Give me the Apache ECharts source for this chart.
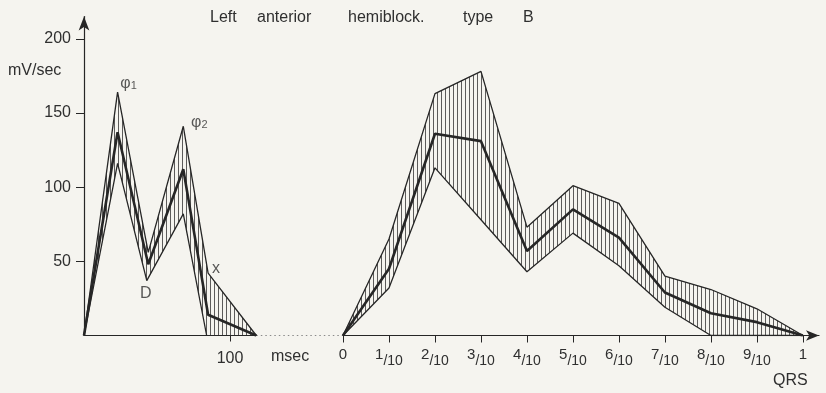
<!DOCTYPE html>
<html><head><meta charset="utf-8">
<script src="https://cdn.jsdelivr.net/npm/echarts@6/dist/echarts.min.js"></script>
<style>html,body{margin:0;padding:0;background:#f5f4ef}#c{width:826px;height:393px}</style>
</head><body><div id="c"></div>
<script>
// ---------- data ----------
const titleWords = ['Left', 'anterior', 'hemiblock.', 'type', 'B'];
const yTicks = [50, 100, 150, 200];
const msecTicks = [100];
// left panel (msec)
const leftUpperX = [0, 23, 44, 68, 85, 118];
const leftUpperY = [0, 164, 56, 141, 42, 0];
const leftMeanX = [0, 23, 44, 68, 85, 118];
const leftMeanY = [0, 137, 48, 112, 14, 0];
const leftLowerX = [0, 23, 43, 68, 84];
const leftLowerY = [0, 116, 37, 82, 0];
// right panel (fraction of QRS)
const qrsX = [0, 0.1, 0.2, 0.3, 0.4, 0.5, 0.6, 0.7, 0.8, 0.9, 1];
const qrsLabels = ['0', '1/10', '2/10', '3/10', '4/10', '5/10', '6/10', '7/10', '8/10', '9/10', '1'];
const rightUpper = [0, 65, 163, 178, 73, 101, 89, 40, 31, 18, 0];
const rightMean = [0, 45, 136, 131, 57, 85, 66, 29, 15, 9, 0];
const rightLower = [0, 32, 113, 78, 43, 69, 47, 19, 0, 0, 0];
// annotations anchored to data points of the left panel
const annotNames = ['φ1', 'φ2', 'D', 'x'];
const annotX = [23, 68, 43, 85];
const annotY = [164, 141, 37, 42];

// ---------- styles ----------
const BG = '#f5f4ef';
const INK = '#262626';
const TXT = '#2f2f2f';
const HATCH = 'rgba(40,40,40,0.75)';
const HATCH_STEP = 4;
const FONT = 'Liberation Sans';
const annotOffsets = [[11, -9], [16, -4], [-1, 13], [8, -5]];
const titleWidths = [47, 91, 115, 60, 20];

const zip = (xs, ys) => xs.map((x, i) => [x, ys[i]]);

const titleRich = {};
titleWords.forEach((w, i) => {
  titleRich['w' + i] = { width: titleWidths[i], align: 'left', fontSize: 16, fontWeight: 'normal', fontFamily: FONT, color: TXT };
});

const yBase = { type: 'value', min: 0, max: 215 };

const chart = echarts.init(document.getElementById('c'), null, { renderer: 'canvas' });

// hatched band between an upper and a lower curve, positioned through the axes
function band(xi, up, lo) {
  const poly = up.concat(lo.slice().reverse());
  return { type: 'custom', coordinateSystem: 'cartesian2d', xAxisIndex: xi, yAxisIndex: xi,
    silent: true, z: 1, clip: false,
    data: [[up[0][0], up[0][1]]],
    renderItem: (params, api) => {
      const px = poly.map(p => api.coord(p));
      const xs = px.map(p => p[0]), ys = px.map(p => p[1]);
      const x0 = Math.floor(Math.min(...xs)), x1 = Math.ceil(Math.max(...xs));
      const y0 = Math.min(...ys) - 2, y1 = Math.max(...ys) + 2;
      const children = [];
      for (let x = x0 + 2; x <= x1; x += HATCH_STEP) {
        children.push({ type: 'line', shape: { x1: x + 0.5, y1: y0, x2: x + 0.5, y2: y1 },
          style: { stroke: HATCH, lineWidth: 1 } });
      }
      return { type: 'group', children: children,
        clipPath: { type: 'polygon', shape: { points: px } } };
    } };
}
function lineS(xi, d, w) {
  return { type: 'line', xAxisIndex: xi, yAxisIndex: xi, data: d, symbol: 'none', silent: true,
    lineStyle: { width: w, color: INK }, z: 3 };
}

const lu = zip(leftUpperX, leftUpperY), lm = zip(leftMeanX, leftMeanY), ll = zip(leftLowerX, leftLowerY);
const ru = zip(qrsX, rightUpper), rm = zip(qrsX, rightMean), rl = zip(qrsX, rightLower);

chart.setOption({
  backgroundColor: BG,
  animation: false,
  textStyle: { fontFamily: FONT, color: TXT },
  title: {
    text: titleWords.map((w, i) => '{w' + i + '|' + w + '}').join(''),
    left: 205, top: 5,
    textStyle: { fontWeight: 'normal', rich: titleRich }
  },
  grid: [
    { left: 84, top: 16.5, width: 172.3, height: 319 },
    { left: 343, top: 16.5, width: 476, height: 319 }
  ],
  xAxis: [
    { gridIndex: 0, type: 'value', min: 0, max: leftUpperX[leftUpperX.length - 1], z: 10,
      splitLine: { show: false },
      axisLine: { lineStyle: { color: INK, width: 1.2 } },
      axisTick: { customValues: msecTicks, length: 6, lineStyle: { color: INK } },
      axisLabel: { customValues: msecTicks, margin: 15, fontSize: 16, color: TXT, fontFamily: FONT } },
    { gridIndex: 1, type: 'value', min: 0, max: 1.035, z: 10,
      splitLine: { show: false },
      axisLine: { symbol: ['none', 'arrow'], symbolSize: [8, 13], lineStyle: { color: INK, width: 1.2 } },
      axisTick: { customValues: qrsX, length: 7, lineStyle: { color: INK } },
      axisLabel: { customValues: qrsX, margin: 12, color: TXT, fontFamily: FONT, fontSize: 15,
        formatter: v => {
          const s = qrsLabels[Math.round(v * 10)];
          if (s.indexOf('/') < 0) return '{s|' + s + '}';
          const p = s.split('/');
          return '{n|' + p[0] + '}{d|/' + p[1] + '}';
        },
        rich: {
          s: { fontSize: 15, fontFamily: FONT, color: TXT, padding: [0, 0, 2, 0] },
          n: { fontSize: 15, fontFamily: FONT, color: TXT, padding: [0, 0, 6, 0] },
          d: { fontSize: 14, fontFamily: FONT, color: TXT, padding: [6, 0, 0, 0] }
        } } }
  ],
  yAxis: [
    Object.assign({ gridIndex: 0, z: 10,
      splitLine: { show: false },
      axisLine: { show: true, symbol: ['none', 'arrow'], symbolSize: [8, 14], lineStyle: { color: INK, width: 1.2 } },
      axisTick: { show: true, customValues: yTicks, length: 8, lineStyle: { color: INK } },
      axisLabel: { customValues: yTicks, margin: 13, fontSize: 16, color: TXT, fontFamily: FONT } }, yBase),
    Object.assign({ gridIndex: 1, show: false, splitLine: { show: false } }, yBase)
  ],
  series: [
    band(0, lu, ll),
    band(1, ru, rl),
    lineS(0, lu, 1.3), lineS(0, ll, 1.3), lineS(0, lm, 2.6),
    lineS(1, ru, 1.3), lineS(1, rl, 1.3), lineS(1, rm, 2.6),
    { type: 'scatter', xAxisIndex: 0, yAxisIndex: 0, symbolSize: 1, silent: true, z: 5,
      itemStyle: { color: 'rgba(0,0,0,0)' },
      data: annotNames.map((n, i) => ({
        name: n, value: [annotX[i], annotY[i]],
        label: { show: true, position: 'inside', offset: annotOffsets[i],
          formatter: p => {
            const m = p.name.match(/^(.*?)(\d)$/);
            return m ? '{g|' + m[1] + '}{s|' + m[2] + '}' : '{g|' + p.name + '}';
          },
          rich: {
            g: { fontSize: 16, fontFamily: FONT, color: TXT },
            s: { fontSize: 11, fontFamily: FONT, color: TXT, padding: [6, 0, 0, 0] }
          } }
      })) }
  ]
});

const p1 = chart.convertToPixel({ xAxisIndex: 0, yAxisIndex: 0 }, [leftUpperX[leftUpperX.length - 1], 0]);
const p2 = chart.convertToPixel({ xAxisIndex: 1, yAxisIndex: 1 }, [qrsX[0], 0]);
chart.setOption({
  graphic: [
    { type: 'line', shape: { x1: p1[0], y1: p1[1], x2: p2[0], y2: p2[1] },
      style: { stroke: '#8a8a8a', lineWidth: 1, lineDash: [1.5, 3] }, silent: true },
    { type: 'text', left: 8, top: 63, silent: true,
      style: { text: 'mV/sec', fontSize: 16, fontFamily: FONT, fill: TXT } },
    { type: 'text', left: 271, top: 349, silent: true,
      style: { text: 'msec', fontSize: 16, fontFamily: FONT, fill: TXT } },
    { type: 'text', left: 773, top: 373, silent: true,
      style: { text: 'QRS', fontSize: 16, fontFamily: FONT, fill: TXT } }
  ]
});
</script></body></html>
